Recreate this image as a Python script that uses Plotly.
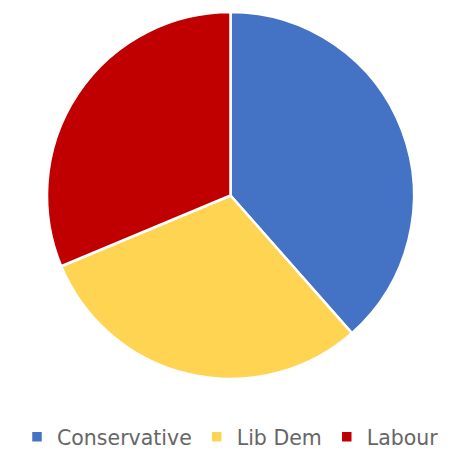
import plotly.graph_objects as go

parties = ["Conservative", "Lib Dem", "Labour"]
shares = [38.5, 30.2, 31.3]
colors = ["#4472C4", "#FFD453", "#C00000"]

fig = go.Figure(go.Pie(
    labels=parties,
    values=shares,
    sort=False,
    direction="clockwise",
    rotation=0,
    textinfo="none",
    hoverinfo="label+percent",
    marker=dict(colors=colors, line=dict(color="white", width=2.5)),
))

fig.update_layout(
    width=461, height=457,
    margin=dict(l=0, r=0, t=12, b=77),
    paper_bgcolor="white",
    plot_bgcolor="white",
    showlegend=True,
    legend=dict(
        orientation="h",
        x=0.5, xanchor="center",
        y=-0.158, yanchor="middle",
        font=dict(family="DejaVu Sans", size=20.5, color="#666666"),
        itemwidth=30,
    ),
)

fig.write_html("out.html")
